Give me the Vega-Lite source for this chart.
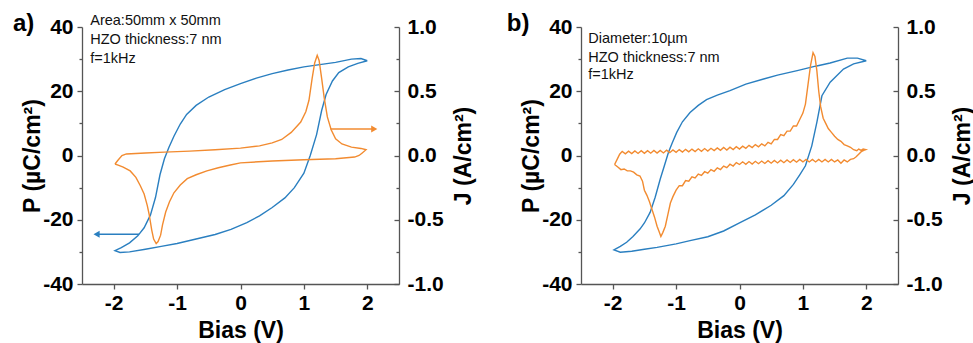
{
  "$schema": "https://vega.github.io/schema/vega-lite/v6.json",
  "background": "white",
  "padding": {"left": 12, "top": 11, "right": 5, "bottom": 5},
  "spacing": 30,
  "config": {
    "font": "Liberation Sans",
    "view": {"stroke": null},
    "axis": {"labelFont": "Liberation Sans", "titleFont": "Liberation Sans", "grid": false,
      "domainColor": "#555555", "tickColor": "#555555", "domainWidth": 1.3, "tickWidth": 1.3,
      "labelColor": "#000000", "titleColor": "#000000", "labelFontSize": 21, "labelFontWeight": "bold",
      "titleFontSize": 23, "titleFontWeight": "bold", "labelOverlap": false, "labelFlush": false}
  },
  "datasets": {
    "aP": [
      {"V": 2.0, "P": 29.5}, {"V": 1.9, "P": 30.2}, {"V": 1.75, "P": 30.0}, {"V": 1.5, "P": 29.0},
      {"V": 1.25, "P": 28.3}, {"V": 1.0, "P": 27.6}, {"V": 0.75, "P": 26.6}, {"V": 0.5, "P": 25.5},
      {"V": 0.25, "P": 24.1}, {"V": 0.0, "P": 22.4}, {"V": -0.25, "P": 20.5}, {"V": -0.5, "P": 18.2},
      {"V": -0.7, "P": 15.6}, {"V": -0.85, "P": 12.8}, {"V": -0.95, "P": 9.8}, {"V": -1.05, "P": 6.0},
      {"V": -1.13, "P": 2.5}, {"V": -1.2, "P": -1.0}, {"V": -1.27, "P": -6.0}, {"V": -1.34, "P": -13.0},
      {"V": -1.42, "P": -18.5}, {"V": -1.52, "P": -22.5}, {"V": -1.62, "P": -25.0}, {"V": -1.75, "P": -27.2},
      {"V": -1.88, "P": -28.7}, {"V": -1.98, "P": -29.6}, {"V": -1.9, "P": -30.2}, {"V": -1.75, "P": -30.0},
      {"V": -1.5, "P": -29.2}, {"V": -1.25, "P": -28.3}, {"V": -1.0, "P": -27.4}, {"V": -0.7, "P": -26.0},
      {"V": -0.4, "P": -24.6}, {"V": -0.15, "P": -23.0}, {"V": 0.1, "P": -20.9}, {"V": 0.3, "P": -18.8},
      {"V": 0.5, "P": -16.2}, {"V": 0.7, "P": -13.2}, {"V": 0.85, "P": -10.0}, {"V": 1.0, "P": -5.5},
      {"V": 1.1, "P": 0.0}, {"V": 1.2, "P": 6.5}, {"V": 1.28, "P": 14.0}, {"V": 1.35, "P": 19.0},
      {"V": 1.45, "P": 23.2}, {"V": 1.55, "P": 25.8}, {"V": 1.7, "P": 27.6}, {"V": 1.85, "P": 28.7},
      {"V": 2.0, "P": 29.5}
    ],
    "aJ": [
      {"V": -1.98, "J": -0.066}, {"V": -1.93, "J": -0.035}, {"V": -1.87, "J": 0.0}, {"V": -1.8, "J": 0.012},
      {"V": -1.5, "J": 0.02}, {"V": -1.2, "J": 0.026}, {"V": -0.8, "J": 0.034}, {"V": -0.4, "J": 0.045},
      {"V": 0.0, "J": 0.057}, {"V": 0.3, "J": 0.075}, {"V": 0.5, "J": 0.098}, {"V": 0.65, "J": 0.125},
      {"V": 0.8, "J": 0.18}, {"V": 0.95, "J": 0.26}, {"V": 1.03, "J": 0.34}, {"V": 1.08, "J": 0.43},
      {"V": 1.13, "J": 0.6}, {"V": 1.17, "J": 0.72}, {"V": 1.21, "J": 0.78}, {"V": 1.24, "J": 0.74},
      {"V": 1.28, "J": 0.6}, {"V": 1.32, "J": 0.45}, {"V": 1.37, "J": 0.3}, {"V": 1.43, "J": 0.2},
      {"V": 1.5, "J": 0.13}, {"V": 1.6, "J": 0.09}, {"V": 1.75, "J": 0.065}, {"V": 1.9, "J": 0.055},
      {"V": 1.98, "J": 0.045}, {"V": 1.92, "J": 0.02}, {"V": 1.87, "J": 0.0}, {"V": 1.8, "J": -0.012},
      {"V": 1.5, "J": -0.025}, {"V": 1.0, "J": -0.033}, {"V": 0.5, "J": -0.043}, {"V": 0.0, "J": -0.057},
      {"V": -0.16, "J": -0.074}, {"V": -0.35, "J": -0.095}, {"V": -0.53, "J": -0.12}, {"V": -0.7, "J": -0.15},
      {"V": -0.84, "J": -0.18}, {"V": -0.95, "J": -0.23}, {"V": -1.05, "J": -0.29}, {"V": -1.12, "J": -0.36},
      {"V": -1.18, "J": -0.44}, {"V": -1.23, "J": -0.54}, {"V": -1.26, "J": -0.62}, {"V": -1.3, "J": -0.67},
      {"V": -1.33, "J": -0.685}, {"V": -1.37, "J": -0.65}, {"V": -1.4, "J": -0.58}, {"V": -1.44, "J": -0.46},
      {"V": -1.47, "J": -0.39}, {"V": -1.52, "J": -0.3}, {"V": -1.58, "J": -0.235}, {"V": -1.65, "J": -0.17},
      {"V": -1.74, "J": -0.12}, {"V": -1.85, "J": -0.09}, {"V": -1.93, "J": -0.075}, {"V": -1.98, "J": -0.066}
    ],
    "bP": [
      {"V": 2.0, "P": 29.5}, {"V": 1.86, "P": 30.3}, {"V": 1.7, "P": 30.3}, {"V": 1.43, "P": 28.8},
      {"V": 1.2, "P": 27.8}, {"V": 0.91, "P": 26.4}, {"V": 0.6, "P": 25.0}, {"V": 0.38, "P": 23.8},
      {"V": 0.1, "P": 22.2}, {"V": -0.15, "P": 20.2}, {"V": -0.35, "P": 18.8}, {"V": -0.52, "P": 17.4},
      {"V": -0.65, "P": 15.6}, {"V": -0.78, "P": 13.4}, {"V": -0.9, "P": 10.5}, {"V": -0.99, "P": 7.2},
      {"V": -1.06, "P": 4.0}, {"V": -1.12, "P": 1.0}, {"V": -1.19, "P": -3.5}, {"V": -1.25, "P": -7.3},
      {"V": -1.33, "P": -13.0}, {"V": -1.41, "P": -17.7}, {"V": -1.5, "P": -21.0}, {"V": -1.57, "P": -22.9},
      {"V": -1.68, "P": -25.2}, {"V": -1.78, "P": -27.0}, {"V": -1.88, "P": -28.3}, {"V": -1.98, "P": -29.4},
      {"V": -1.88, "P": -30.1}, {"V": -1.7, "P": -29.8}, {"V": -1.5, "P": -29.2}, {"V": -1.3, "P": -28.6},
      {"V": -1.0, "P": -27.5}, {"V": -0.78, "P": -26.5}, {"V": -0.5, "P": -25.3}, {"V": -0.25, "P": -23.5},
      {"V": 0.0, "P": -21.0}, {"V": 0.25, "P": -18.5}, {"V": 0.5, "P": -15.5}, {"V": 0.7, "P": -12.5},
      {"V": 0.85, "P": -9.0}, {"V": 0.95, "P": -6.0}, {"V": 1.04, "P": -3.2}, {"V": 1.14, "P": 3.0},
      {"V": 1.22, "P": 10.3}, {"V": 1.3, "P": 18.6}, {"V": 1.43, "P": 22.8}, {"V": 1.64, "P": 26.9},
      {"V": 1.8, "P": 28.5}, {"V": 2.0, "P": 29.5}
    ],
    "bJ": [
      {"V": -1.97, "J": -0.07}, {"V": -1.93, "J": -0.03}, {"V": -1.89, "J": 0.01},
      {"V": -1.85, "J": 0.032}, {"V": -1.8, "J": 0.013}, {"V": -1.75, "J": 0.034}, {"V": -1.7, "J": 0.015},
      {"V": -1.65, "J": 0.036}, {"V": -1.6, "J": 0.016}, {"V": -1.55, "J": 0.037}, {"V": -1.5, "J": 0.017},
      {"V": -1.45, "J": 0.038}, {"V": -1.4, "J": 0.018}, {"V": -1.35, "J": 0.039}, {"V": -1.3, "J": 0.019},
      {"V": -1.25, "J": 0.04}, {"V": -1.2, "J": 0.02}, {"V": -1.15, "J": 0.041}, {"V": -1.1, "J": 0.022},
      {"V": -1.05, "J": 0.043}, {"V": -1.0, "J": 0.025}, {"V": -0.95, "J": 0.046}, {"V": -0.9, "J": 0.027},
      {"V": -0.85, "J": 0.048}, {"V": -0.8, "J": 0.029}, {"V": -0.75, "J": 0.05}, {"V": -0.7, "J": 0.031},
      {"V": -0.65, "J": 0.052}, {"V": -0.6, "J": 0.033}, {"V": -0.55, "J": 0.054}, {"V": -0.5, "J": 0.035},
      {"V": -0.45, "J": 0.056}, {"V": -0.4, "J": 0.038}, {"V": -0.35, "J": 0.059}, {"V": -0.3, "J": 0.04},
      {"V": -0.25, "J": 0.062}, {"V": -0.2, "J": 0.043}, {"V": -0.15, "J": 0.065}, {"V": -0.1, "J": 0.046},
      {"V": -0.05, "J": 0.068}, {"V": 0.0, "J": 0.05}, {"V": 0.05, "J": 0.073}, {"V": 0.1, "J": 0.056},
      {"V": 0.15, "J": 0.079}, {"V": 0.2, "J": 0.062}, {"V": 0.25, "J": 0.085}, {"V": 0.3, "J": 0.068},
      {"V": 0.35, "J": 0.091}, {"V": 0.4, "J": 0.075}, {"V": 0.45, "J": 0.102}, {"V": 0.5, "J": 0.09},
      {"V": 0.55, "J": 0.125}, {"V": 0.6, "J": 0.125}, {"V": 0.65, "J": 0.162}, {"V": 0.7, "J": 0.155},
      {"V": 0.75, "J": 0.19}, {"V": 0.8, "J": 0.19}, {"V": 0.85, "J": 0.23}, {"V": 0.9, "J": 0.23},
      {"V": 0.95, "J": 0.28}, {"V": 1.0, "J": 0.33}, {"V": 1.04, "J": 0.4}, {"V": 1.08, "J": 0.55},
      {"V": 1.12, "J": 0.7}, {"V": 1.16, "J": 0.8}, {"V": 1.19, "J": 0.77}, {"V": 1.22, "J": 0.66},
      {"V": 1.25, "J": 0.5}, {"V": 1.28, "J": 0.38}, {"V": 1.32, "J": 0.29}, {"V": 1.36, "J": 0.25},
      {"V": 1.4, "J": 0.21}, {"V": 1.45, "J": 0.18}, {"V": 1.5, "J": 0.15}, {"V": 1.55, "J": 0.125},
      {"V": 1.6, "J": 0.11}, {"V": 1.65, "J": 0.085}, {"V": 1.7, "J": 0.075}, {"V": 1.75, "J": 0.064},
      {"V": 1.8, "J": 0.045}, {"V": 1.85, "J": 0.037}, {"V": 1.88, "J": 0.05}, {"V": 1.92, "J": 0.04},
      {"V": 1.95, "J": 0.05}, {"V": 1.99, "J": 0.045},
      {"V": 1.96, "J": 0.04}, {"V": 1.92, "J": 0.03}, {"V": 1.88, "J": 0.01}, {"V": 1.84, "J": -0.01},
      {"V": 1.8, "J": -0.025}, {"V": 1.75, "J": -0.03}, {"V": 1.7, "J": -0.05}, {"V": 1.65, "J": -0.035},
      {"V": 1.6, "J": -0.06}, {"V": 1.55, "J": -0.035}, {"V": 1.5, "J": -0.05}, {"V": 1.45, "J": -0.03},
      {"V": 1.4, "J": -0.05}, {"V": 1.35, "J": -0.03}, {"V": 1.3, "J": -0.05}, {"V": 1.25, "J": -0.03},
      {"V": 1.2, "J": -0.05}, {"V": 1.15, "J": -0.03}, {"V": 1.1, "J": -0.05}, {"V": 1.05, "J": -0.03},
      {"V": 1.0, "J": -0.05}, {"V": 0.95, "J": -0.031}, {"V": 0.9, "J": -0.052}, {"V": 0.85, "J": -0.033},
      {"V": 0.8, "J": -0.054}, {"V": 0.75, "J": -0.035}, {"V": 0.7, "J": -0.056}, {"V": 0.65, "J": -0.037},
      {"V": 0.6, "J": -0.058}, {"V": 0.55, "J": -0.039}, {"V": 0.5, "J": -0.06}, {"V": 0.45, "J": -0.041},
      {"V": 0.4, "J": -0.062}, {"V": 0.35, "J": -0.043}, {"V": 0.3, "J": -0.064}, {"V": 0.25, "J": -0.045},
      {"V": 0.2, "J": -0.066}, {"V": 0.15, "J": -0.047}, {"V": 0.1, "J": -0.068}, {"V": 0.05, "J": -0.049},
      {"V": 0.0, "J": -0.07}, {"V": -0.05, "J": -0.055}, {"V": -0.1, "J": -0.082}, {"V": -0.15, "J": -0.068},
      {"V": -0.2, "J": -0.095}, {"V": -0.25, "J": -0.082}, {"V": -0.3, "J": -0.109}, {"V": -0.35, "J": -0.096},
      {"V": -0.4, "J": -0.123}, {"V": -0.45, "J": -0.11}, {"V": -0.5, "J": -0.138}, {"V": -0.55, "J": -0.126},
      {"V": -0.6, "J": -0.155}, {"V": -0.65, "J": -0.145}, {"V": -0.7, "J": -0.175}, {"V": -0.75, "J": -0.166},
      {"V": -0.8, "J": -0.2}, {"V": -0.85, "J": -0.195}, {"V": -0.9, "J": -0.235}, {"V": -0.95, "J": -0.235},
      {"V": -1.0, "J": -0.27}, {"V": -1.05, "J": -0.32}, {"V": -1.09, "J": -0.37}, {"V": -1.13, "J": -0.46},
      {"V": -1.17, "J": -0.55}, {"V": -1.21, "J": -0.6}, {"V": -1.24, "J": -0.63}, {"V": -1.27, "J": -0.59},
      {"V": -1.3, "J": -0.55}, {"V": -1.34, "J": -0.48}, {"V": -1.38, "J": -0.42}, {"V": -1.42, "J": -0.36},
      {"V": -1.46, "J": -0.31}, {"V": -1.5, "J": -0.27}, {"V": -1.53, "J": -0.2}, {"V": -1.57, "J": -0.16},
      {"V": -1.62, "J": -0.15}, {"V": -1.67, "J": -0.13}, {"V": -1.72, "J": -0.12}, {"V": -1.77, "J": -0.12},
      {"V": -1.82, "J": -0.105}, {"V": -1.87, "J": -0.11}, {"V": -1.92, "J": -0.09}, {"V": -1.97, "J": -0.07}
    ],
    "aArrowP": [{"Vtail": -1.6, "Vhead": -2.27, "P": -24.5}],
    "aArrowJ": [{"Vtail": 1.42, "Vhead": 2.11, "J": 0.206}],
    "aText": [
      {"V": -2.37, "P": 41.8, "label": "Area:50mm x 50mm"},
      {"V": -2.37, "P": 35.8, "label": "HZO thickness:7 nm"},
      {"V": -2.37, "P": 30.1, "label": "f=1kHz"}
    ],
    "aLabel": [{"V": -3.59, "P": 38.8, "label": "a)"}],
    "bText": [
      {"V": -2.385, "P": 36.2, "label": "Diameter:10µm"},
      {"V": -2.385, "P": 30.5, "label": "HZO thickness:7 nm"},
      {"V": -2.385, "P": 25.1, "label": "f=1kHz"}
    ],
    "bLabel": [{"V": -3.67, "P": 38.7, "label": "b)"}]
  },
  "hconcat": [
    {
      "width": 317, "height": 257,
      "layer": [
        {
          "data": {"name": "aP"},
          "mark": {"type": "line", "color": "#2a7fc0", "strokeWidth": 1.4},
          "encoding": {
            "x": {"field": "V", "type": "quantitative", "scale": {"domain": [-2.5, 2.5]},
              "axis": {"title": "Bias (V)", "values": [-2, -1.5, -1, -0.5, 0, 0.5, 1, 1.5, 2],
                "labelExpr": "datum.value % 1 === 0 ? replace(format(datum.value, 'd'), '\u2212', '-') : ''",
                "tickSize": 5, "tickDash": {"condition": {"test": "datum.value % 1 !== 0", "value": [3, 20]}, "value": []},
                "labelPadding": 3, "titlePadding": 6}},
            "y": {"field": "P", "type": "quantitative", "scale": {"domain": [-40, 40]},
              "axis": {"title": "P (µC/cm²)", "values": [-40, -30, -20, -10, 0, 10, 20, 30, 40],
                "labelExpr": "datum.value % 20 === 0 ? replace(format(datum.value, 'd'), '\u2212', '-') : ''",
                "tickSize": 5, "tickDash": {"condition": {"test": "datum.value % 20 !== 0", "value": [3, 20]}, "value": []},
                "labelPadding": 4, "titlePadding": -2}},
            "order": {"value": null}
          }
        },
        {
          "data": {"name": "aJ"},
          "mark": {"type": "line", "color": "#f28b30", "strokeWidth": 1.4},
          "encoding": {
            "x": {"field": "V", "type": "quantitative", "scale": {"domain": [-2.5, 2.5]}},
            "y": {"field": "J", "type": "quantitative", "scale": {"domain": [-1, 1]},
              "axis": {"orient": "right", "title": "J (A/cm²)", "titleAngle": 270, "titleBaseline": "top",
                "values": [-1, -0.75, -0.5, -0.25, 0, 0.25, 0.5, 0.75, 1],
                "labelExpr": "datum.value % 0.5 === 0 ? replace(format(datum.value, '.1f'), '\u2212', '-') : ''",
                "tickSize": -5, "tickDash": {"condition": {"test": "datum.value % 0.5 !== 0", "value": [3, 20]}, "value": []},
                "labelPadding": 13, "titlePadding": 9}},
            "order": {"value": null}
          }
        },
        {
          "data": {"name": "aArrowP"},
          "mark": {"type": "rule", "color": "#2a7fc0", "strokeWidth": 1.4},
          "encoding": {
            "x": {"field": "Vtail", "type": "quantitative", "scale": {"domain": [-2.5, 2.5]}},
            "x2": {"field": "Vhead"},
            "y": {"field": "P", "type": "quantitative", "scale": {"domain": [-40, 40]}, "axis": null}
          }
        },
        {
          "data": {"name": "aArrowP"},
          "mark": {"type": "point", "shape": "triangle-left", "filled": true, "color": "#2a7fc0", "opacity": 1, "size": 50},
          "encoding": {
            "x": {"field": "Vhead", "type": "quantitative", "scale": {"domain": [-2.5, 2.5]}},
            "y": {"field": "P", "type": "quantitative", "scale": {"domain": [-40, 40]}, "axis": null}
          }
        },
        {
          "data": {"name": "aArrowJ"},
          "mark": {"type": "rule", "color": "#f28b30", "strokeWidth": 1.4},
          "encoding": {
            "x": {"field": "Vtail", "type": "quantitative", "scale": {"domain": [-2.5, 2.5]}},
            "x2": {"field": "Vhead"},
            "y": {"field": "J", "type": "quantitative", "scale": {"domain": [-1, 1]}, "axis": null}
          }
        },
        {
          "data": {"name": "aArrowJ"},
          "mark": {"type": "point", "shape": "triangle-right", "filled": true, "color": "#f28b30", "opacity": 1, "size": 50},
          "encoding": {
            "x": {"field": "Vhead", "type": "quantitative", "scale": {"domain": [-2.5, 2.5]}},
            "y": {"field": "J", "type": "quantitative", "scale": {"domain": [-1, 1]}, "axis": null}
          }
        },
        {
          "data": {"name": "aText"},
          "mark": {"type": "text", "align": "left", "baseline": "middle", "fontSize": 14.5, "color": "#111111"},
          "encoding": {
            "x": {"field": "V", "type": "quantitative", "scale": {"domain": [-2.5, 2.5]}},
            "y": {"field": "P", "type": "quantitative", "scale": {"domain": [-40, 40]}, "axis": null},
            "text": {"field": "label"}
          }
        },
        {
          "data": {"name": "aLabel"},
          "mark": {"type": "text", "align": "left", "baseline": "alphabetic", "fontSize": 24, "fontWeight": "bold", "color": "#000000"},
          "encoding": {
            "x": {"field": "V", "type": "quantitative", "scale": {"domain": [-2.5, 2.5]}},
            "y": {"field": "P", "type": "quantitative", "scale": {"domain": [-40, 40]}, "axis": null},
            "text": {"field": "label"}
          }
        }
      ],
      "resolve": {"scale": {"y": "independent"}}
    },
    {
      "width": 317, "height": 257,
      "layer": [
        {
          "data": {"name": "bP"},
          "mark": {"type": "line", "color": "#2a7fc0", "strokeWidth": 1.4},
          "encoding": {
            "x": {"field": "V", "type": "quantitative", "scale": {"domain": [-2.5, 2.5]},
              "axis": {"title": "Bias (V)", "values": [-2, -1.5, -1, -0.5, 0, 0.5, 1, 1.5, 2],
                "labelExpr": "datum.value % 1 === 0 ? replace(format(datum.value, 'd'), '\u2212', '-') : ''",
                "tickSize": 5, "tickDash": {"condition": {"test": "datum.value % 1 !== 0", "value": [3, 20]}, "value": []},
                "labelPadding": 3, "titlePadding": 6}},
            "y": {"field": "P", "type": "quantitative", "scale": {"domain": [-40, 40]},
              "axis": {"title": "P (µC/cm²)", "values": [-40, -30, -20, -10, 0, 10, 20, 30, 40],
                "labelExpr": "datum.value % 20 === 0 ? replace(format(datum.value, 'd'), '\u2212', '-') : ''",
                "tickSize": 5, "tickDash": {"condition": {"test": "datum.value % 20 !== 0", "value": [3, 20]}, "value": []},
                "labelPadding": 4, "titlePadding": -2}},
            "order": {"value": null}
          }
        },
        {
          "data": {"name": "bJ"},
          "mark": {"type": "line", "color": "#f28b30", "strokeWidth": 1.4},
          "encoding": {
            "x": {"field": "V", "type": "quantitative", "scale": {"domain": [-2.5, 2.5]}},
            "y": {"field": "J", "type": "quantitative", "scale": {"domain": [-1, 1]},
              "axis": {"orient": "right", "title": "J (A/cm²)", "titleAngle": 270, "titleBaseline": "top",
                "values": [-1, -0.75, -0.5, -0.25, 0, 0.25, 0.5, 0.75, 1],
                "labelExpr": "datum.value % 0.5 === 0 ? replace(format(datum.value, '.1f'), '\u2212', '-') : ''",
                "tickSize": -5, "tickDash": {"condition": {"test": "datum.value % 0.5 !== 0", "value": [3, 20]}, "value": []},
                "labelPadding": 13, "titlePadding": 9}},
            "order": {"value": null}
          }
        },
        {
          "data": {"name": "bText"},
          "mark": {"type": "text", "align": "left", "baseline": "middle", "fontSize": 14.5, "color": "#111111"},
          "encoding": {
            "x": {"field": "V", "type": "quantitative", "scale": {"domain": [-2.5, 2.5]}},
            "y": {"field": "P", "type": "quantitative", "scale": {"domain": [-40, 40]}, "axis": null},
            "text": {"field": "label"}
          }
        },
        {
          "data": {"name": "bLabel"},
          "mark": {"type": "text", "align": "left", "baseline": "alphabetic", "fontSize": 24, "fontWeight": "bold", "color": "#000000"},
          "encoding": {
            "x": {"field": "V", "type": "quantitative", "scale": {"domain": [-2.5, 2.5]}},
            "y": {"field": "P", "type": "quantitative", "scale": {"domain": [-40, 40]}, "axis": null},
            "text": {"field": "label"}
          }
        }
      ],
      "resolve": {"scale": {"y": "independent"}}
    }
  ]
}
